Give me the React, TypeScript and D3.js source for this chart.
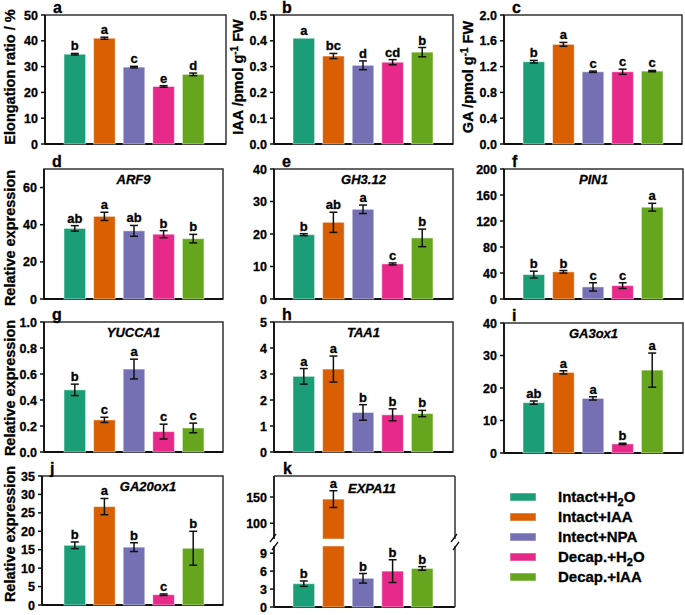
import * as d3 from "d3";

const groups = ["Intact+H2O", "Intact+IAA", "Intect+NPA", "Decap.+H2O", "Decap.+IAA"];
const colors = ["#1b9e77", "#d95f02", "#7570b3", "#e7298a", "#66a61e"];

const elongation = [34.8, 41.0, 29.8, 22.3, 27.0];
const elongationErr = [0.3, 0.4, 0.3, 0.3, 0.5];
const elongationSig = ["b", "a", "c", "e", "d"];

const iaa = [0.41, 0.341, 0.305, 0.317, 0.356];
const iaaErr = [0, 0.01, 0.017, 0.01, 0.018];
const iaaSig = ["a", "bc", "d", "cd", "b"];

const ga = [1.276, 1.545, 1.12, 1.12, 1.13];
const gaErr = [0.02, 0.03, 0.01, 0.04, 0.01];
const gaSig = ["b", "a", "c", "c", "c"];

const arf9 = [38.0, 44.5, 36.7, 34.9, 32.5];
const arf9Err = [1.5, 2.2, 2.9, 1.9, 2.3];
const arf9Sig = ["ab", "a", "ab", "b", "b"];

const gh312 = [19.8, 23.6, 27.6, 10.8, 18.8];
const gh312Err = [0.3, 3.1, 1.3, 0.3, 2.7];
const gh312Sig = ["b", "ab", "a", "c", "b"];

const pin1 = [37.6, 41.8, 18.6, 20.6, 141.2];
const pin1Err = [5.2, 2, 6.4, 4.4, 6];
const pin1Sig = ["b", "b", "c", "c", "a"];

const yucca1 = [0.478, 0.247, 0.638, 0.157, 0.185];
const yucca1Err = [0.044, 0.02, 0.076, 0.057, 0.037];
const yucca1Sig = ["b", "c", "a", "c", "c"];

const taa1 = [2.91, 3.19, 1.52, 1.43, 1.48];
const taa1Err = [0.3, 0.5, 0.3, 0.23, 0.12];
const taa1Sig = ["a", "a", "b", "b", "b"];

const ga3ox1 = [15.5, 24.8, 16.8, 2.8, 25.5];
const ga3ox1Err = [0.5, 0.5, 0.5, 0.2, 5.25];
const ga3ox1Sig = ["ab", "a", "a", "b", "a"];

const ga20ox1 = [16.2, 26.7, 15.7, 2.8, 15.4];
const ga20ox1Err = [0.9, 2.2, 1.2, 0.2, 4.6];
const ga20ox1Sig = ["b", "a", "b", "c", "b"];

const expa11 = [3.9, 146, 4.8, 6.0, 6.45];
const expa11Err = [0.45, 16, 0.8, 1.9, 0.3];
const expa11Sig = ["b", "a", "b", "b", "b"];
const expa11LowTicks = [0, 3, 6, 9];
const expa11HighTicks = [100, 150];

const FONT = "'Liberation Sans', Arial, sans-serif";

type PanelDef = {
  tag: string;
  gene?: string;
  geneX?: number;
  values: number[];
  errs: number[];
  sig: string[];
  domain: [number, number];
  ticks: number[];
  fmt: (v: number) => string;
  x0: number; x1: number; y0: number; y1: number;
  bx: number;
};

const f0 = (v: number) => d3.format("d")(v);
const f1 = (v: number) => d3.format(".1f")(v);

const panels: PanelDef[] = [
  { tag: "a", values: elongation, errs: elongationErr, sig: elongationSig, domain: [0, 50], ticks: d3.range(0, 51, 10), fmt: f0, x0: 45, x1: 226, y0: 15, y1: 144, bx: 56 },
  { tag: "b", values: iaa, errs: iaaErr, sig: iaaSig, domain: [0, 0.5], ticks: d3.range(0, 0.51, 0.1), fmt: f1, x0: 274, x1: 453, y0: 15, y1: 144, bx: 285 },
  { tag: "c", values: ga, errs: gaErr, sig: gaSig, domain: [0, 2], ticks: d3.range(0, 2.01, 0.4), fmt: f1, x0: 504, x1: 682, y0: 15, y1: 144, bx: 515 },
  { tag: "d", gene: "ARF9", values: arf9, errs: arf9Err, sig: arf9Sig, domain: [0, 70], ticks: [0, 20, 40, 60], fmt: f0, x0: 44, x1: 223, y0: 169, y1: 299, bx: 56 },
  { tag: "e", gene: "GH3.12", values: gh312, errs: gh312Err, sig: gh312Sig, domain: [0, 40], ticks: d3.range(0, 41, 10), fmt: f0, x0: 274, x1: 453, y0: 169, y1: 299, bx: 285 },
  { tag: "f", gene: "PIN1", values: pin1, errs: pin1Err, sig: pin1Sig, domain: [0, 200], ticks: d3.range(0, 201, 40), fmt: f0, x0: 504, x1: 683, y0: 169, y1: 299, bx: 515 },
  { tag: "g", gene: "YUCCA1", values: yucca1, errs: yucca1Err, sig: yucca1Sig, domain: [0, 1], ticks: d3.range(0, 1.01, 0.2), fmt: f1, x0: 44, x1: 223, y0: 322, y1: 452, bx: 56 },
  { tag: "h", gene: "TAA1", values: taa1, errs: taa1Err, sig: taa1Sig, domain: [0, 5], ticks: d3.range(0, 6, 1), fmt: f0, x0: 274, x1: 453, y0: 322, y1: 452, bx: 285 },
  { tag: "i", gene: "GA3ox1", values: ga3ox1, errs: ga3ox1Err, sig: ga3ox1Sig, domain: [0, 40], ticks: d3.range(0, 41, 10), fmt: f0, x0: 504, x1: 683, y0: 323, y1: 453, bx: 515 },
  { tag: "j", gene: "GA20ox1", geneX: 148, values: ga20ox1, errs: ga20ox1Err, sig: ga20ox1Sig, domain: [0, 35], ticks: d3.range(0, 36, 5), fmt: f0, x0: 42, x1: 223, y0: 476, y1: 605, bx: 56 },
];

function bandScale(bx: number) {
  return d3.scaleBand<string>().domain(groups).range([bx, bx + 156]).padding(0.27);
}

function ErrorBar({ cx, yTop, yBot }: { cx: number; yTop: number; yBot: number }) {
  return (
    <g stroke="#111" strokeWidth={1.5}>
      <line x1={cx} x2={cx} y1={yTop} y2={yBot} />
      <line x1={cx - 4} x2={cx + 4} y1={yTop} y2={yTop} />
      <line x1={cx - 4} x2={cx + 4} y1={yBot} y2={yBot} />
    </g>
  );
}

function YTicks({ scale, ticks, fmt, x0 }: { scale: (v: number) => number; ticks: number[]; fmt: (v: number) => string; x0: number }) {
  return (
    <g>
      {ticks.map((t) => (
        <g key={t}>
          <line x1={x0 - 4} x2={x0} y1={scale(t)} y2={scale(t)} stroke="#111" strokeWidth={1.5} />
          <text x={x0 - 7} y={scale(t)} dy="0.36em" textAnchor="end" fontSize={12.5} fontWeight="bold">{fmt(t)}</text>
        </g>
      ))}
    </g>
  );
}

function Panel({ p }: { p: PanelDef }) {
  const y = d3.scaleLinear().domain(p.domain).range([p.y1, p.y0]);
  const x = bandScale(p.bx);
  const bw = x.bandwidth();
  return (
    <g>
      <rect x={p.x0} y={p.y0} width={p.x1 - p.x0} height={p.y1 - p.y0} fill="none" stroke="#333" strokeWidth={1.5} />
      <line x1={p.x0} x2={p.x0} y1={p.y0} y2={p.y1} stroke="#111" strokeWidth={1.8} />
      <line x1={p.x0} x2={p.x1} y1={p.y1} y2={p.y1} stroke="#111" strokeWidth={1.8} />
      <YTicks scale={y} ticks={p.ticks} fmt={p.fmt} x0={p.x0} />
      {groups.map((g, i) => {
        const v = p.values[i];
        const e = p.errs[i];
        const cx = (x(g) as number) + bw / 2;
        const top = y(v + e);
        return (
          <g key={g}>
            <rect x={x(g)} y={y(v)} width={bw} height={y(0) - y(v)} fill={colors[i]} stroke="#fff" strokeOpacity={0.5} strokeWidth={1} />
            {e > 0 && <ErrorBar cx={cx} yTop={top} yBot={y(v - e)} />}
            <text x={cx} y={top - 3} textAnchor="middle" fontSize={13} fontWeight="bold">{p.sig[i]}</text>
          </g>
        );
      })}
      <text x={p.x0 + 8} y={p.y0 - 2} fontSize={16} fontWeight="bold">{p.tag}</text>
      {p.gene && (
        <text x={p.geneX ?? (p.x0 + p.x1) / 2} y={p.y0 + 15} textAnchor="middle" fontSize={13} fontWeight="bold" fontStyle="italic">{p.gene}</text>
      )}
    </g>
  );
}

function PanelK() {
  const x0 = 274, x1 = 455, y0 = 476, y1 = 607, gapTop = 539, gapBot = 546;
  const yLow = d3.scaleLinear().domain([0, 10.2]).range([y1, gapBot]);
  const yHigh = d3.scaleLinear().domain([70, 190]).range([gapTop, y0]);
  const yv = (v: number) => (v <= 10.2 ? yLow(v) : yHigh(v));
  const x = bandScale(285);
  const bw = x.bandwidth();
  return (
    <g>
      <line x1={x0} x2={x1} y1={y0} y2={y0} stroke="#333" strokeWidth={1.5} />
      <line x1={x0} x2={x1} y1={y1} y2={y1} stroke="#111" strokeWidth={1.8} />
      <line x1={x0} x2={x0} y1={y0} y2={gapTop} stroke="#111" strokeWidth={1.8} />
      <line x1={x0} x2={x0} y1={gapBot} y2={y1} stroke="#111" strokeWidth={1.8} />
      <line x1={x1} x2={x1} y1={y0} y2={gapTop} stroke="#333" strokeWidth={1.5} />
      <line x1={x1} x2={x1} y1={gapBot} y2={y1} stroke="#333" strokeWidth={1.5} />
      {[x0, x1].map((bx) => (
        <g key={bx} stroke="#111" strokeWidth={1.3}>
          <line x1={bx - 4} x2={bx + 2} y1={gapTop + 3} y2={gapTop - 5} />
          <line x1={bx - 2} x2={bx + 4} y1={gapBot + 4} y2={gapBot - 4} />
        </g>
      ))}
      <YTicks scale={yLow} ticks={expa11LowTicks} fmt={f0} x0={x0} />
      <YTicks scale={yHigh} ticks={expa11HighTicks} fmt={f0} x0={x0} />
      {groups.map((g, i) => {
        const v = expa11[i];
        const e = expa11Err[i];
        const cx = (x(g) as number) + bw / 2;
        const top = yv(v + e);
        return (
          <g key={g}>
            {v <= 10.2 ? (
              <rect x={x(g)} y={yLow(v)} width={bw} height={yLow(0) - yLow(v)} fill={colors[i]} stroke="#fff" strokeOpacity={0.5} />
            ) : (
              <g fill={colors[i]} stroke="#fff" strokeOpacity={0.5}>
                <rect x={x(g)} y={gapBot} width={bw} height={yLow(0) - gapBot} />
                <rect x={x(g)} y={yHigh(v)} width={bw} height={gapTop - yHigh(v)} />
              </g>
            )}
            <ErrorBar cx={cx} yTop={top} yBot={yv(v - e)} />
            <text x={cx} y={top - 3} textAnchor="middle" fontSize={13} fontWeight="bold">{expa11Sig[i]}</text>
          </g>
        );
      })}
      <text x={x0 + 9} y={y0 - 2} fontSize={16} fontWeight="bold">k</text>
      <text x={372} y={y0 + 17} textAnchor="middle" fontSize={13} fontWeight="bold" fontStyle="italic">EXPA11</text>
    </g>
  );
}

function Sub2({ label }: { label: string }) {
  const idx = label.indexOf("H2O");
  if (idx < 0) return <>{label}</>;
  return (
    <>
      {label.slice(0, idx + 1)}
      <tspan fontSize={11} dy={4}>2</tspan>
      <tspan dy={-4}>O</tspan>
    </>
  );
}

function YTitle({ x, y, children }: { x: number; y: number; children: any }) {
  return (
    <text transform={`translate(${x},${y}) rotate(-90)`} textAnchor="middle" dy="0.35em" fontSize={14.5} fontWeight="bold">{children}</text>
  );
}

export default function App() {
  return (
    <svg width={685} height={615} style={{ position: "absolute", left: 0, top: 0, background: "#fff" }} fontFamily={FONT}>
      <style>{"text { stroke: #000; stroke-width: 0.3px; }"}</style>
      <rect width={685} height={615} fill="#fff" />
      {panels.map((p) => <Panel key={p.tag} p={p} />)}
      <PanelK />
      <YTitle x={10} y={77}>Elongation ratio / %</YTitle>
      <YTitle x={238} y={77}>
        IAA /pmol g<tspan fontSize={10} dy={-5}>-1</tspan><tspan dy={5}> FW</tspan>
      </YTitle>
      <YTitle x={468} y={77}>
        GA /pmol g<tspan fontSize={10} dy={-5}>-1</tspan><tspan dy={5}> FW</tspan>
      </YTitle>
      <YTitle x={10} y={238}>Relative expression</YTitle>
      <YTitle x={10} y={388}>Relative expression</YTitle>
      <YTitle x={10} y={534}>Relative expression</YTitle>
      <g>
        {groups.map((g, i) => (
          <g key={g} transform={`translate(510,${497 + i * 20})`}>
            <rect x={0} y={-4} width={26} height={8} fill={colors[i]} stroke="#fff" strokeOpacity={0.5} />
            <text x={48} y={5} fontSize={15} fontWeight="bold"><Sub2 label={g} /></text>
          </g>
        ))}
      </g>
    </svg>
  );
}
